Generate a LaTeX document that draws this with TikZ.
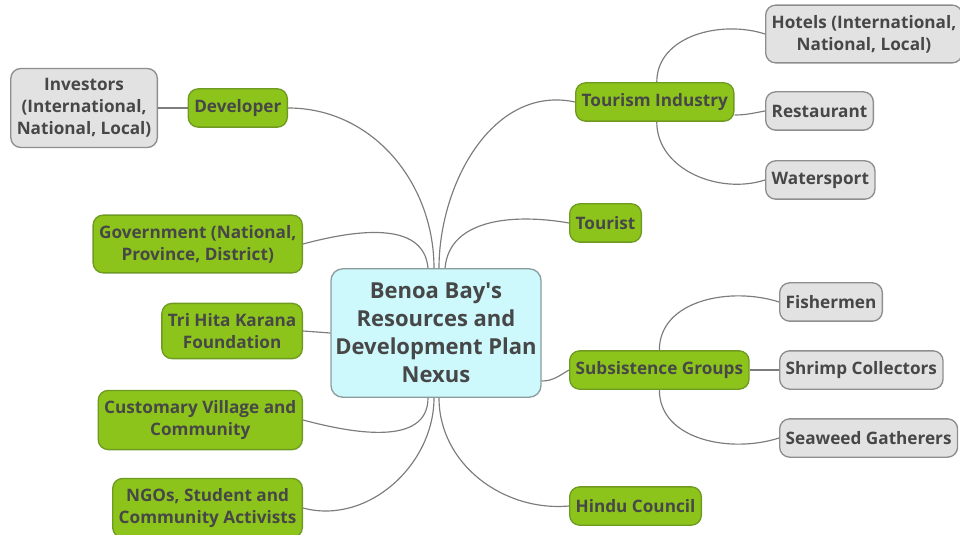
\documentclass[tikz,border=0pt]{standalone}
\usepackage{fontspec}
\setmainfont{Open Sans}
\usetikzlibrary{calc}

\definecolor{ink}{HTML}{474747}
\definecolor{linkgray}{HTML}{7C7C7C}
\definecolor{hubfill}{HTML}{CDF8FC}
\definecolor{hubline}{HTML}{8A9C9E}
\definecolor{branchfill}{HTML}{8CC41C}
\definecolor{branchline}{HTML}{6F9A22}
\definecolor{leaffill}{HTML}{E2E2E2}
\definecolor{leafline}{HTML}{8E8E8E}

\tikzstyle{hub} = [draw=hubline, fill=hubfill, line width=0.8pt, rounded corners=7pt, align=center, text=ink,
  font=\fontsize{13.2}{16.8}\selectfont\bfseries, inner sep=1pt, minimum width=126pt, minimum height=77pt]
\tikzstyle{branch} = [draw=branchline, fill=branchfill, line width=0.8pt, rounded corners=6pt, align=center, text=ink,
  font=\fontsize{10.3}{13.2}\selectfont\bfseries, inner xsep=3.6pt, inner ysep=6pt, minimum height=23pt]
\tikzstyle{leaf} = [branch, draw=leafline, fill=leaffill]
\tikzstyle{line} = [draw=linkgray, line width=0.7pt]

\begin{document}
\begin{tikzpicture}[x=0.6pt, y=-0.6pt]
	\useasboundingbox (0,0) rectangle (960,535);

	% centre
	\node [hub] (hub) at (436,333) {Benoa Bay\textquotesingle s\\Resources and\\Development Plan\\Nexus};

	% left side, boxes end at the same right edge
	\node [branch, anchor=east] (dev) at (288,108) {Developer};
	\node [leaf, anchor=east] (inv) at (158,108) {Investors\\(International,\\National, Local)};
	\node [branch, anchor=east] (gov) at (303,244) {Government (National,\\Province, District)};
	\node [branch, anchor=east] (thk) at (303,331) {Tri Hita Karana\\Foundation};
	\node [branch, anchor=east] (cust) at (303,420) {Customary Village and\\Community};
	\node [branch, anchor=east] (ngo) at (303,508) {NGOs, Student and\\Community Activists};

	% right side
	\node [branch, anchor=west] (tour) at (575,102) {Tourism Industry};
	\node [leaf, anchor=west] (hotel) at (765,34) {Hotels (International,\\National, Local)};
	\node [leaf, anchor=west] (resto) at (765,111) {Restaurant};
	\node [leaf, anchor=west] (water) at (765,180) {Watersport};
	\node [branch, anchor=west] (tourist) at (569,223) {Tourist};
	\node [branch, anchor=west] (subs) at (569,370) {Subsistence Groups};
	\node [leaf, anchor=west] (fish) at (779,302) {Fishermen};
	\node [leaf, anchor=west] (shrimp) at (779,370) {Shrimp Collectors};
	\node [leaf, anchor=west] (weed) at (779,438) {Seaweed Gatherers};
	\node [branch, anchor=west] (hindu) at (569,506) {Hindu Council};

	% links out of the centre
	\draw [line] ($(hub.north)+(-2,0)$) to[out=90, in=0] (dev.east);
	\draw [line] ($(hub.north)+(-8,0)$) to[out=95, in=15] (gov.east);
	\draw [line] (hub.west) -- (thk.east);
	\draw [line] ($(hub.south)+(-8,0)$) to[out=-90, in=-15] (cust.east);
	\draw [line] ($(hub.south)+(-2,0)$) to[out=-90, in=-15] (ngo.east);
	\draw [line] ($(hub.north)+(3,0)$) to[out=90, in=168] (tour.west);
	\draw [line] ($(hub.north)+(9,0)$) to[out=85, in=170] (tourist.west);
	\draw [line] ($(hub.east)+(0,48)$) to[out=0, in=210] (subs.west);
	\draw [line] ($(hub.south)+(3,0)$) to[out=-90, in=185] (hindu.west);

	% second level
	\draw [line] (inv.east) -- (dev.west);
	\draw [line] ($(tour.north)+(2,0)$) to[out=90, in=162] (hotel.west);
	\draw [line] ($(tour.east)+(0,13)$) to[out=0, in=190] (resto.west);
	\draw [line] ($(tour.south)+(2,0)$) to[out=-90, in=198] (water.west);
	\draw [line] (subs.north) to[out=90, in=162] (fish.west);
	\draw [line] (subs.east) -- (shrimp.west);
	\draw [line] (subs.south) to[out=-90, in=198] (weed.west);
\end{tikzpicture}
\end{document}
